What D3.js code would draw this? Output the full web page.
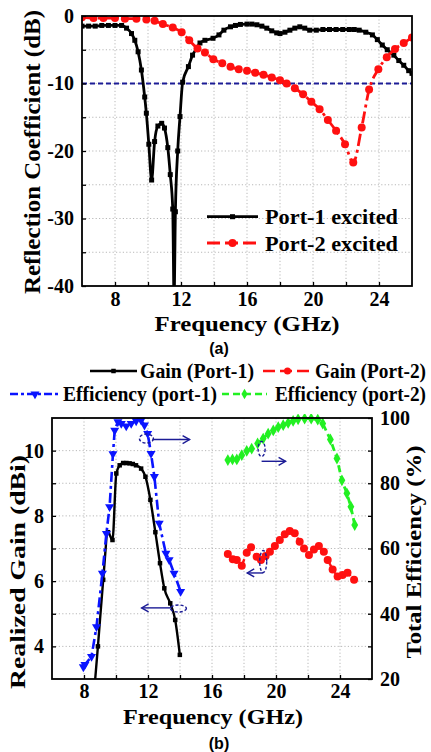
<!DOCTYPE html>
<html><head><meta charset="utf-8">
<script src="https://cdn.jsdelivr.net/npm/d3@7"></script>
<style>
html,body{margin:0;padding:0;background:#fff;}
svg{display:block;}
text{font-family:"Liberation Serif","Times New Roman",serif;font-weight:bold;fill:#000;}
</style></head>
<body>
<svg id="c" width="431" height="752"></svg>
<script>
// ---------- DATA (a) ----------
const freqA1 = [6.0,6.4,6.8,7.2,7.6,8.0,8.4,8.7,9.0,9.2,9.4,9.6,9.8,9.9,10.05,10.22,10.4,10.6,10.83,11.0,11.2,11.35,11.5,11.58,11.66,11.8,11.94,12.1,12.45,12.7,12.95,13.15,13.45,13.94,14.3,14.6,15.0,15.3,15.6,16.0,16.3,16.6,16.9,17.2,17.5,17.8,18.0,18.3,18.6,18.9,19.2,19.5,19.8,20.2,20.6,21.0,21.4,21.8,22.2,22.5,22.8,23.2,23.6,23.9,24.2,24.5,24.9,25.2,25.5,25.8,26.0];
const reflPort1 = [-1.5,-1.5,-1.5,-1.4,-1.4,-1.4,-1.4,-1.8,-2.6,-3.6,-5.3,-8.0,-12.0,-14.4,-19.0,-24.3,-18.6,-16.3,-15.9,-16.6,-19.5,-23.5,-28.6,-42,-29,-20,-14.9,-9.8,-7.5,-5.8,-4.8,-4.0,-3.6,-3.3,-2.8,-2.1,-1.6,-1.4,-1.25,-1.2,-1.2,-1.3,-1.5,-1.8,-2.2,-2.5,-2.6,-2.4,-2.1,-1.8,-1.6,-1.8,-2.1,-2.1,-2.0,-2.0,-2.0,-2.0,-2.0,-2.0,-2.1,-2.4,-2.8,-3.5,-4.3,-5.0,-5.8,-6.6,-7.3,-8.1,-8.5];
const freqA2 = [6.0,6.7,7.3,8.0,8.6,9.3,9.9,10.4,10.9,11.5,12.04,12.5,13.0,13.45,13.96,14.5,15.0,15.5,16.0,16.5,17.0,17.5,18.0,18.4,18.9,19.4,19.9,20.4,20.9,21.4,21.94,22.44,22.95,23.4,23.96,24.47,24.97,25.5,26.0];
const reflPort2 = [-0.2,-0.3,-0.3,-0.3,-0.4,-0.4,-0.5,-0.7,-1.2,-1.7,-2.4,-3.6,-4.8,-5.4,-6.4,-7.0,-7.5,-7.9,-8.1,-8.4,-8.7,-9.1,-9.5,-10.0,-10.7,-11.6,-12.7,-13.8,-15.4,-17.0,-19.0,-21.7,-16.5,-10.9,-7.9,-6.1,-4.9,-4.0,-3.2];
const refLevel = -10;
const xTicksA = [8,12,16,20,24];
const yTicksA = [0,-10,-20,-30,-40];
const legendA = ["Port-1 excited","Port-2 excited"];

// ---------- DATA (b) ----------
const freqG1 = [8.7,8.87,9.2,9.5,9.78,10.02,10.23,10.45,10.65,10.85,11.05,11.25,11.57,11.84,12.15,12.46,12.75,13.02,13.39,13.7,13.99];
const gainPort1 = [3.0,4.0,6.04,7.5,7.26,9.3,9.55,9.62,9.62,9.61,9.59,9.55,9.45,9.2,8.49,7.5,6.55,5.78,5.32,4.81,3.74];
const freqE1 = [7.96,8.06,8.47,8.78,9.15,9.4,9.6,9.81,9.92,10.12,10.33,10.64,10.95,11.26,11.57,11.78,11.98,12.19,12.4,12.7,13.12,13.32,13.63,14.04];
const effPort1 = [23.7,24.4,26.9,36,52.4,64.6,72.8,89,96.2,98.8,98.3,97.5,98.3,99.1,99.3,97.8,95.2,89.1,82,67.7,58.5,56.5,52.4,46.8];
const freqG2 = [16.99,17.3,17.55,17.86,18.17,18.44,18.79,19.06,19.35,19.62,19.93,20.24,20.55,20.86,21.17,21.48,21.75,22.06,22.37,22.68,22.99,23.23,23.54,23.85,24.16,24.47,24.88];
const gainPort2 = [6.83,6.67,6.65,6.47,6.87,7.04,6.75,6.65,6.77,6.9,7.08,7.26,7.44,7.54,7.47,7.21,7.0,6.8,6.97,7.08,6.9,6.65,6.36,6.14,6.19,6.26,6.04];
const freqE2 = [16.99,17.28,17.55,17.86,18.17,18.48,18.85,19.2,19.51,19.83,20.14,20.45,20.76,21.07,21.38,21.79,22.2,22.61,22.92,23.4,23.81,24.12,24.43,24.68,24.92];
const effPort2 = [87.1,87.3,87.3,88.6,89.9,90.6,92.2,93.7,95.2,96.2,97.2,97.8,98.5,99.1,99.6,99.8,99.8,99.5,98.3,93.4,87.6,80.9,76.9,72.8,67.2];
const xTicksB = [8,12,16,20,24];
const yTicksGain = [4,6,8,10];
const yTicksEff = [20,40,60,80,100];
const legendB = ["Gain (Port-1)","Gain (Port-2)","Efficiency (port-1)","Efficiency (port-2)"];

const svg = d3.select("#c");
const RED = "#ff1010", BLUE = "#0a14ff", GREEN = "#22f022", NAVY = "#1c1c96";

function grid(g, x, y, xv, yv, x0, x1, y0, y1){
  xv.forEach(v => g.append("line").attr("x1",x(v)).attr("x2",x(v)).attr("y1",y0).attr("y2",y1)
    .attr("stroke","#b8b8b8").attr("stroke-width",1).attr("stroke-dasharray","1.2,2.2"));
  yv.forEach(v => g.append("line").attr("x1",x0).attr("x2",x1).attr("y1",y(v)).attr("y2",y(v))
    .attr("stroke","#b8b8b8").attr("stroke-width",1).attr("stroke-dasharray","1.2,2.2"));
}
function styleAxis(g, fs){
  g.select(".domain").remove();
  g.selectAll(".tick line").attr("stroke","#000").attr("stroke-width",1.3);
  g.selectAll(".tick text").attr("font-size",fs).attr("fill","#000")
   .style("font-family","'Liberation Serif','Times New Roman',serif").style("font-weight","bold");
}
function marker(g, type, cx, cy, color, size){
  let sym;
  if(type==="square") sym = d3.symbol(d3.symbolSquare, size*size);
  else if(type==="circle") sym = d3.symbol(d3.symbolCircle, Math.PI*size*size/4);
  else if(type==="tri") sym = d3.symbol(d3.symbolTriangle, size*size*0.55);
  else sym = d3.symbol(d3.symbolDiamond, size*size*0.5);
  return g.append("path").attr("d",sym()).attr("fill",color)
    .attr("transform",`translate(${cx},${cy})${type==="tri"?" rotate(180)":""}`);
}

// ================= (a) =================
const A = {l:82, r:412, t:16, b:286};
const xA = d3.scaleLinear().domain([6,26]).range([A.l,A.r]);
const yA = d3.scaleLinear().domain([0,-40]).range([A.t,A.b]);
const gA = svg.append("g");
grid(gA, xA, yA, d3.range(8,26,2), d3.range(-5,-40,-5), A.l, A.r, A.t, A.b);
gA.append("clipPath").attr("id","clipA").append("rect").attr("x",A.l).attr("y",A.t).attr("width",A.r-A.l).attr("height",A.b-A.t);

gA.append("line").attr("x1",A.l).attr("x2",A.r).attr("y1",yA(refLevel)).attr("y2",yA(refLevel))
  .attr("stroke",NAVY).attr("stroke-width",2).attr("stroke-dasharray","5,3");

const dA = gA.append("g").attr("clip-path","url(#clipA)");
const lineA1 = d3.line().x((d,i)=>xA(freqA1[i])).y(d=>yA(d)).curve(d3.curveMonotoneX);
dA.append("path").attr("d",lineA1(reflPort1)).attr("fill","none").attr("stroke","#000").attr("stroke-width",2.8);
reflPort1.forEach((v,i)=>marker(dA,"square",xA(freqA1[i]),yA(v),"#000",5));
const lineA2 = d3.line().x((d,i)=>xA(freqA2[i])).y(d=>yA(d)).curve(d3.curveMonotoneX);
dA.append("path").attr("d",lineA2(reflPort2)).attr("fill","none").attr("stroke",RED).attr("stroke-width",2.8).attr("stroke-dasharray","12,4,3,4");
reflPort2.forEach((v,i)=>marker(dA,"circle",xA(freqA2[i]),yA(v),RED,8));

const axXA = gA.append("g").attr("transform",`translate(0,${A.b})`)
  .call(d3.axisBottom(xA).tickValues(d3.range(8,26,2)).tickSize(-4).tickPadding(6).tickFormat(d=>xTicksA.includes(d)?d:""));
styleAxis(axXA, 20);
const axYA = gA.append("g").attr("transform",`translate(${A.l},0)`)
  .call(d3.axisLeft(yA).tickValues(d3.range(0,-41,-5)).tickSize(-4).tickPadding(8).tickFormat(d=>yTicksA.includes(d)?d:""));
styleAxis(axYA, 20);
gA.append("rect").attr("x",A.l).attr("y",A.t).attr("width",A.r-A.l).attr("height",A.b-A.t)
  .attr("fill","none").attr("stroke","#000").attr("stroke-width",1.8);

const legA = gA.append("g");
[[0,216.7,"#000","square",null],[1,243,RED,"circle","13,5"]].forEach(([i,y,c,m,da])=>{
  legA.append("line").attr("x1",207).attr("x2",258).attr("y1",y).attr("y2",y).attr("stroke",c).attr("stroke-width",2.8)
    .attr("stroke-dasharray",da);
  marker(legA,m,232.5,y,c,m==="square"?5:8);
  legA.append("text").attr("x",265).attr("y",y+7.5).attr("font-size",22).attr("textLength",133).attr("lengthAdjust","spacingAndGlyphs").text(legendA[i]);
});

svg.append("text").attr("transform","translate(40,152) rotate(-90)").attr("text-anchor","middle").attr("font-size",24)
  .attr("textLength",284).attr("lengthAdjust","spacingAndGlyphs").text("Reflection Coefficient (dB)");
svg.append("text").attr("x",247).attr("y",331).attr("text-anchor","middle").attr("font-size",21)
  .attr("textLength",185).attr("lengthAdjust","spacingAndGlyphs").text("Frequency (GHz)");
svg.append("text").attr("x",219).attr("y",354).attr("text-anchor","middle").attr("font-size",16)
  .style("font-family","'Liberation Sans',Arial,sans-serif").text("(a)");

// ================= (b) =================
const B = {l:52, r:372, t:418, b:679};
const xB = d3.scaleLinear().domain([6,26]).range([B.l,B.r]);
const yG = d3.scaleLinear().domain([3,11]).range([B.b,B.t]);
const yE = d3.scaleLinear().domain([20,100]).range([B.b,B.t]);
const gB = svg.append("g");
grid(gB, xB, yG, d3.range(8,26,2), d3.range(4,11,1), B.l, B.r, B.t, B.b);
gB.append("clipPath").attr("id","clipB").append("rect").attr("x",B.l).attr("y",B.t-4).attr("width",B.r-B.l).attr("height",B.b-B.t+4);
const dB = gB.append("g").attr("clip-path","url(#clipB)");

const lG1 = d3.line().x((d,i)=>xB(freqG1[i])).y(d=>yG(d)).curve(d3.curveMonotoneX);
dB.append("path").attr("d",lG1(gainPort1)).attr("fill","none").attr("stroke","#000").attr("stroke-width",2.4);
gainPort1.forEach((v,i)=>{ if(i>0) marker(dB,"square",xB(freqG1[i]),yG(v),"#000",4.5); });
const lE1 = d3.line().x((d,i)=>xB(freqE1[i])).y(d=>yE(d));
dB.append("path").attr("d",lE1(effPort1)).attr("fill","none").attr("stroke",BLUE).attr("stroke-width",2.6).attr("stroke-dasharray","10,4,3,4");
effPort1.forEach((v,i)=>marker(dB,"tri",xB(freqE1[i]),yE(v),BLUE,8));
const lG2 = d3.line().x((d,i)=>xB(freqG2[i])).y(d=>yG(d));
dB.append("path").attr("d",lG2(gainPort2)).attr("fill","none").attr("stroke",RED).attr("stroke-width",2.4).attr("stroke-dasharray","8,4,2,4");
gainPort2.forEach((v,i)=>marker(dB,"circle",xB(freqG2[i]),yG(v),RED,8));
const lE2 = d3.line().x((d,i)=>xB(freqE2[i])).y(d=>yE(d));
dB.append("path").attr("d",lE2(effPort2)).attr("fill","none").attr("stroke",GREEN).attr("stroke-width",2.8).attr("stroke-dasharray","7,4");
effPort2.forEach((v,i)=>marker(dB,"diamond",xB(freqE2[i]),yE(v),GREEN,9));

const ann = gB.append("g").attr("stroke",NAVY).attr("fill","none").attr("stroke-width",1.4);
function arrow(x1,y,x2){
  ann.append("line").attr("x1",x1).attr("x2",x2).attr("y1",y).attr("y2",y);
  const s = x2>x1?-1:1;
  ann.append("path").attr("d",`M${x2+s*7},${y-4} L${x2},${y} L${x2+s*7},${y+4}`);
}
function ell(cx,cy,rx,ry){ ann.append("ellipse").attr("cx",cx).attr("cy",cy).attr("rx",rx).attr("ry",ry).attr("stroke-dasharray","3,2"); }
ell(xB(11.9),yE(93.7),7,4.5); arrow(xB(11.9)+6,yE(93.7)+1,xB(14.6));
ell(xB(13.9),yG(5.16),8,3.5); arrow(xB(13.9)-7,yG(5.18),xB(11.6));
ell(xB(19.1),yE(90.5),3.5,7.5); arrow(xB(19.1),yE(89.8)+10,xB(20.6));
ell(xB(19.2),yG(6.6),3.5,11); arrow(xB(19.2),yG(6.25),xB(18.2));

const axXB = gB.append("g").attr("transform",`translate(0,${B.b})`)
  .call(d3.axisBottom(xB).tickValues(d3.range(8,26,2)).tickSize(-4).tickPadding(5).tickFormat(d=>xTicksB.includes(d)?d:""));
styleAxis(axXB, 20);
const axYG = gB.append("g").attr("transform",`translate(${B.l},0)`)
  .call(d3.axisLeft(yG).tickValues(d3.range(4,11,1)).tickSize(-4).tickPadding(8).tickFormat(d=>yTicksGain.includes(d)?d:""));
styleAxis(axYG, 20);
const axYE = gB.append("g").attr("transform",`translate(${B.r},0)`)
  .call(d3.axisRight(yE).tickValues(d3.range(20,101,10)).tickSize(-4).tickPadding(8).tickFormat(d=>yTicksEff.includes(d)?d:""));
styleAxis(axYE, 20);
gB.append("rect").attr("x",B.l).attr("y",B.t).attr("width",B.r-B.l).attr("height",B.b-B.t)
  .attr("fill","none").attr("stroke","#000").attr("stroke-width",1.8);

const legB = svg.append("g");
const legItems = [
  {x1:90,x2:137,y:371,c:"#000",m:"square",ms:4.5,da:null,tx:140,tl:114},
  {x1:263,x2:312,y:371,c:RED,m:"circle",ms:7,da:"12,5",tx:315,tl:111},
  {x1:10,x2:60,y:394,c:BLUE,m:"tri",ms:8,da:"8,3,3,3",tx:63,tl:154},
  {x1:222,x2:267,y:394,c:GREEN,m:"diamond",ms:8,da:"7,4",tx:275,tl:151}
];
legItems.forEach((d,i)=>{
  legB.append("line").attr("x1",d.x1).attr("x2",d.x2).attr("y1",d.y).attr("y2",d.y).attr("stroke",d.c).attr("stroke-width",2.6).attr("stroke-dasharray",d.da);
  marker(legB,d.m,(d.x1+d.x2)/2,d.y,d.c,d.ms);
  legB.append("text").attr("x",d.tx).attr("y",d.y+7).attr("font-size",20).attr("textLength",d.tl).attr("lengthAdjust","spacingAndGlyphs").text(legendB[i]);
});

svg.append("text").attr("transform","translate(25,572) rotate(-90)").attr("text-anchor","middle").attr("font-size",22)
  .attr("textLength",234).attr("lengthAdjust","spacingAndGlyphs").text("Realized Gain (dBi)");
svg.append("text").attr("transform","translate(421,552) rotate(-90)").attr("text-anchor","middle").attr("font-size",21)
  .attr("textLength",213).attr("lengthAdjust","spacingAndGlyphs").text("Total Efficiency (%)");
svg.append("text").attr("x",213).attr("y",724).attr("text-anchor","middle").attr("font-size",21)
  .attr("textLength",180).attr("lengthAdjust","spacingAndGlyphs").text("Frequency (GHz)");
svg.append("text").attr("x",219).attr("y",749).attr("text-anchor","middle").attr("font-size",16)
  .style("font-family","'Liberation Sans',Arial,sans-serif").text("(b)");
</script>
</body></html>
